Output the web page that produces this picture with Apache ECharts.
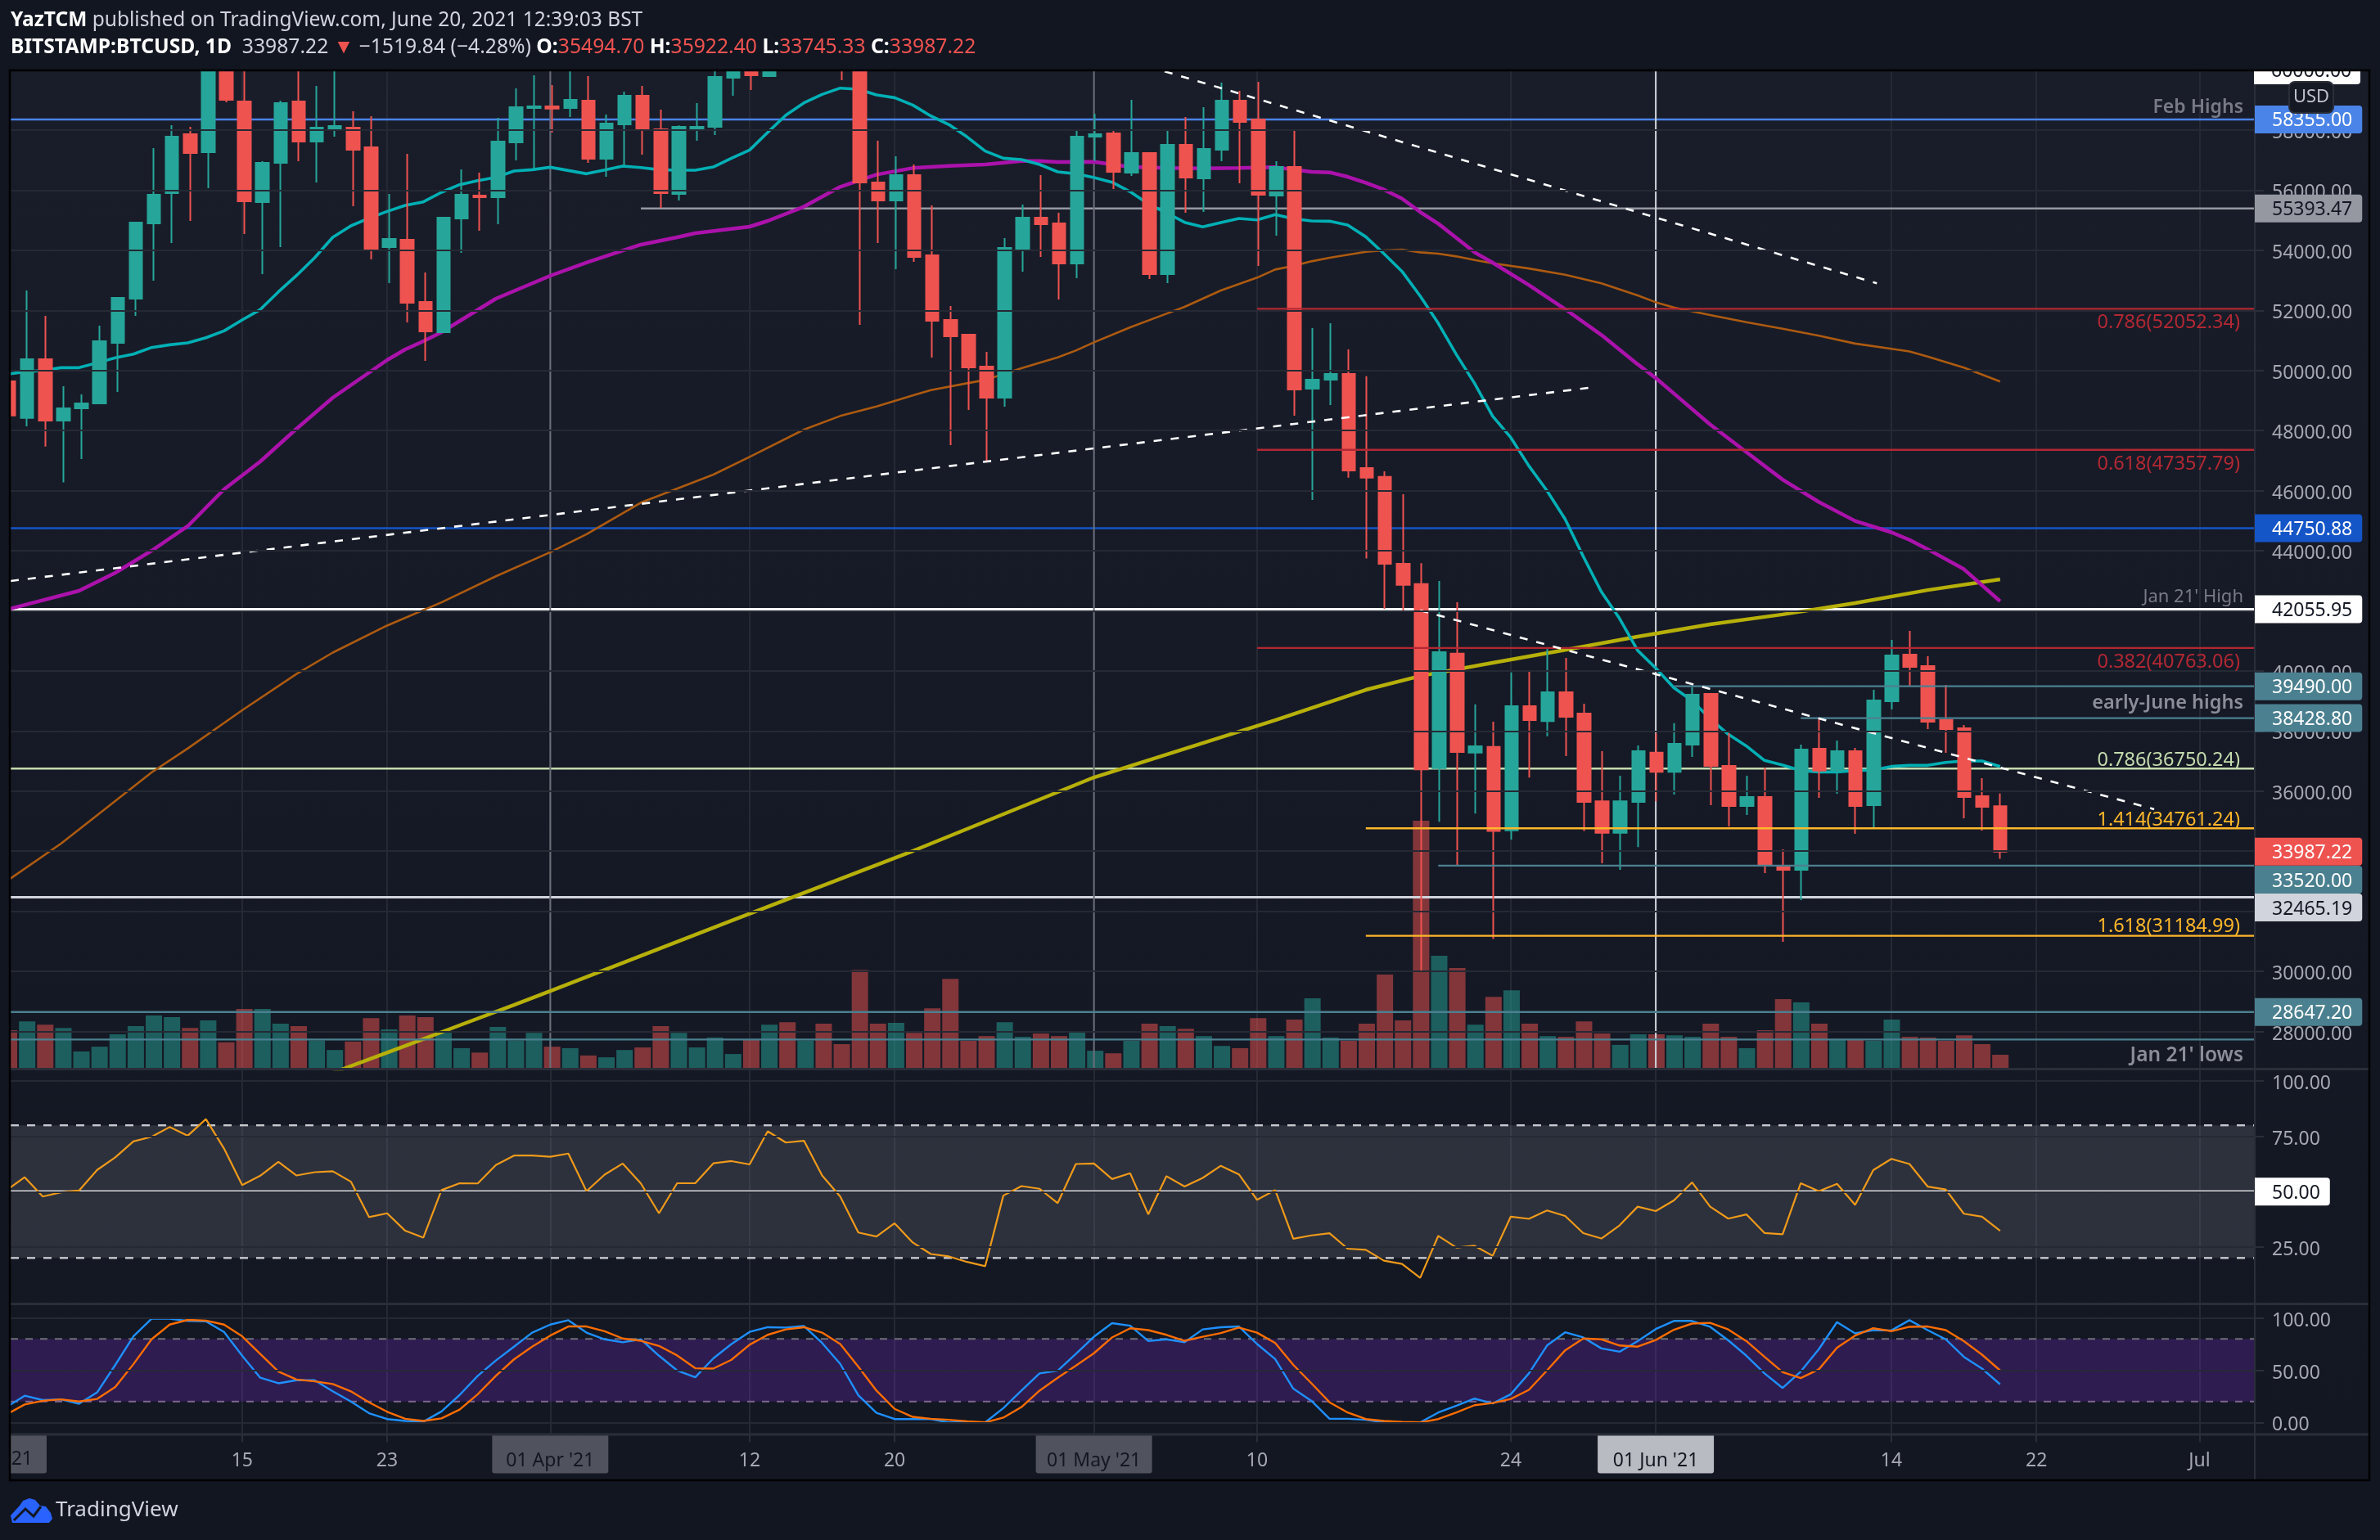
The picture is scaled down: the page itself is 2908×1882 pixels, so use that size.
<!DOCTYPE html>
<html><head><meta charset="utf-8">
<style>html,body{margin:0;padding:0;background:#121621}#c{width:2908px;height:1882px}</style>
<script src="https://cdn.jsdelivr.net/npm/echarts@6/dist/echarts.min.js"></script>
</head><body><div id="c"></div>
<script>
// ---------- daily data, Mar 2 (day 0) .. Jun 20 2021 (day 110) ----------
const opens = [49637,48421,50372,48330,48738,48902,50917,52388,54893,55901,57862,57262,61195,58951,55601,56908,58951,57617,57998,58080,57426,54103,54348,52279,51271,55057,55819,55765,57589,58733,
58788,58733,58978,57045,58188,59142,58025,55873,58052,58107,59741,60100,59795,63500,62900,63200,61300,60300,56255,55656,56500,53831,51680,51189,50127,49092,53994,55084,54893,53559,
57780,57889,56582,57235,53205,57508,56391,57344,58978,58352,55819,56772,49392,49691,49882,46751,46456,43563,42890,36760,40575,37280,37469,34694,38827,38331,39288,38579,35662,34611,35638,
37280,36642,37546,39235,36838,35504,35803,33506,33379,37410,36684,37328,35531,38990,40542,40161,38363,38091,35831,35494.70];
const closes = [48502,50372,48330,48738,48902,50971,52415,54920,55846,57780,57235,61195,59005,55628,56908,58897,57617,58080,58134,57344,54049,54376,52251,51298,55084,55846,55765,57617,58760,58788,
58715,59005,57045,58216,59142,57998,55901,58107,58107,59768,60060,59823,63500,62900,63200,61300,60300,56255,55656,56500,53776,51652,51135,50100,49092,54076,55084,54866,53559,57780,
57862,56609,57235,53205,57508,56418,57371,58978,58270,55846,56772,49365,49691,49882,46669,46433,43563,42866,36725,40622,37304,37493,34670,38827,38366,39288,38473,35638,34611,35662,37327,
36642,37575,39208,36838,35504,35803,33543,33379,37383,36684,37328,35504,39017,40515,40133,38309,38064,35803,35476,33987.22];
const highs = [49982,52660,51816,49473,49201,51489,52415,54948,57399,58161,58107,61700,61700,60600,56963,58978,60300,59468,60300,58624,58461,55873,57208,53259,55111,56691,56582,58406,59387,59823,
59496,60200,59795,58515,59278,59468,58679,58152,58897,61000,60800,61000,64000,64800,63800,63500,62500,61000,57644,57126,56854,55492,52143,51217,50617,54403,55520,56500,55247,57998,
58542,57971,59005,57262,57971,58434,58760,59577,59305,59605,56963,58025,51407,51570,50699,49807,46645,45878,43586,42996,42287,38886,38307,39949,39996,40776,40433,38910,37327,36512,37516,
37929,38260,39453,39262,37927,36511,36784,34060,37546,38390,37682,37437,39371,41032,41332,40488,39534,38200,36430,35922.40];
const lows = [47985,48139,47467,46272,47050,48902,49283,51816,52987,54240,54975,56064,58924,54539,53205,54103,56963,56255,57780,55465,53695,52905,51598,50318,51244,53913,54648,54866,56990,56718,
57916,58434,56908,56445,56827,57181,55411,55656,57644,57834,59142,59332,59768,61000,62000,60100,59659,51516,54240,53368,53613,50427,47513,48684,46968,48793,53286,53776,52360,53068,
56972,56037,56473,53041,52905,55247,55274,56963,56228,53477,54485,48493,45690,48847,46433,43740,42063,41992,30030,34977,33536,35249,31080,34386,36453,37823,37162,34670,33595,33383,34138,
35662,35886,37138,35531,34823,35204,33270,30983,32372,35776,35912,34578,34768,38717,39507,38064,37274,35095,34687,33745.33];
const volumes = [105,129,120,111,47,60,94,116,145,141,111,132,72,163,163,123,116,77,51,74,138,107,145,141,103,56,44,114,77,98,
60,56,36,31,51,58,116,98,58,85,40,80,120,127,77,123,67,270,123,125,98,165,245,76,89,127,87,96,89,103,
49,42,76,123,116,109,89,62,56,138,89,134,192,85,76,123,257,132,677,308,275,120,196,214,123,89,87,129,96,65,94,
94,91,87,123,87,56,105,190,181,123,80,80,76,134,87,85,76,91,67,38];
const ma20 = [49873,49955,50000,50091,50091,50254,50418,50545,50763,50853,50917,51089,51316,51680,52025,52615,53159,53750,54430,54812,55066,55293,55492,55610,55928,56182,56318,56427,56636,56681,
56763,56654,56545,56672,56800,56754,56681,56663,56663,56772,57063,57335,57925,58497,58906,59187,59396,59360,59169,59078,58833,58470,58179,57771,57299,57063,57017,56854,56609,56545,
56418,56264,55946,55538,55247,54930,54775,54920,55057,55011,55184,55048,54975,54966,54839,54448,53885,53296,52478,51570,50527,49573,48476,47767,46822,45996,45051,43811,42630,41744,40681,
40091,39441,39010,38409,37891,37501,37020,36865,36684,36638,36638,36684,36702,36820,36856,36856,36956,37001,37001,36820];
const ma50Days = [0,4,6,8,9,10,12,14,16,18,21,22,23,24,27,30,32,35,37,38,41,42,44,46,48,50,52,54,56,57,58,60,62,64,66,68,70,72,73,74,75,76,77,78,79,80,81,82,84,86,88,90,91,92,94,96,98,100,102,104,105,106,108,110];
const ma50Values = [42040,42666,43265,44000,44409,44818,46043,46969,48058,49093,50346,50700,50972,51272,52388,53151,53587,54186,54431,54567,54785,54975,55450,56110,56518,56736,56809,56854,56972,56972,56936,56945,56772,56736,56727,56736,56763,56609,56591,56445,56246,56019,55719,55274,54884,54412,53931,53587,52843,52040,51180,50206,49748,49232,48200,47283,46366,45621,44991,44613,44361,44051,43386,42320];
const ma100Days = [0,3,5,8,10,13,16,18,21,24,27,30,32,35,39,41,44,46,48,50,51,53,54,56,58,59,60,62,64,65,66,67,69,70,71,72,73,75,76,77,78,79,80,81,82,84,86,88,90,91,92,94,96,98,100,102,104,105,106,108,110];
const ma100Values = [33000,34250,35200,36620,37420,38690,39900,40610,41510,42280,43150,43950,44550,45600,46532,47123,48030,48484,48802,49165,49346,49573,49682,50073,50436,50663,50935,51435,51888,52115,52388,52660,53087,53359,53477,53631,53749,53949,53994,54021,53931,53886,53795,53677,53565,53393,53186,52900,52499,52269,52097,51845,51605,51387,51158,50894,50722,50630,50459,50092,49633];
const ma200Days = [18,22,25,28,30,40,50,60,70,75,78,82,86,90,94,98,102,106,110];
const ma200Values = [26626,27522,28205,28885,29347,31689,34005,36456,38360,39370,39830,40270,40700,41140,41550,41880,42260,42690,43050];
const rsi = [50.6,56.5,47.8,49.7,50.5,59.8,65.5,72.7,74.8,79.2,75.3,82.8,69.5,53,57.2,63.5,57.3,58.8,59.2,54.5,38.5,40.2,32.3,29.2,50.7,53.8,53.7,62,66.3,66.3,
65.8,67.2,50.2,57.7,62.7,53.7,40.2,53.8,53.8,62.8,63.8,62.3,77.3,72.2,73,57.3,47.8,31.5,29.7,35.7,27,21.8,20.7,18.2,16.3,48.2,52.5,51.3,44.8,62.5,
62.7,55.7,58.3,39.7,57,52.3,56.2,61.7,57.8,46.3,50.7,28.7,30.2,31.2,24.2,23.7,18.8,17.3,11,30,24.7,25.5,21,38.7,37.7,41.5,39,31.2,28.8,34.7,43.2,
41.2,46,54.2,43.2,37.8,39.7,31.3,30.7,53.8,50.2,53.5,44,59.7,64.8,62.5,52.3,51,40,38.7,32.3];
const stochK = [14.7,25.6,21.4,22.1,17.9,28.8,55.1,82.5,99.3,99.3,97.2,96.8,86.7,63.9,42.8,37.5,40.4,40.4,29.8,20,8.8,3.2,1.4,0.7,10.5,26.3,44.6,59.3,72.6,86,
93.7,97.9,86,79.6,76.8,79.6,63.9,49.8,43.2,61.4,75.1,86.7,91.2,90.9,92.3,76.1,56.1,26,9.1,3.2,3.2,3.2,0,0,0,13.7,30.5,47,49.5,65.6,
82.1,95.1,92.6,77.9,79.6,76.8,89.1,91.2,91.9,75.1,60.7,32.3,20.7,3.5,3.5,2.5,0,0,0,9.5,16.1,22.8,18.2,27,47,73.7,86.3,81.4,70.9,67.7,77.9,
89.5,97.2,97.2,91.6,78.6,63.9,47,33,48.8,70.2,96.1,85.3,88.4,88.1,97.9,88.4,79.6,62.8,51.6,36.5];
const stochD = [7.7,17.2,20.7,22.1,20,22.5,34,55.8,79.6,93.7,98.2,97.5,93.7,82.5,65.6,48.8,41.1,39.3,36.8,29.8,19.3,10.2,3.5,1.4,3.9,12.3,27,44.6,60.4,72.6,
83.2,91.9,91.9,87.4,80.4,78.2,73.3,64.2,51.9,51.6,60,74.4,83.9,89.1,91.2,86,75.1,53.3,30.5,13,5.3,3.5,2.5,1.1,0,4.6,14.7,30.5,42.8,54.4,
66.3,81.4,90.2,88.4,83.9,78.2,82.1,85.6,90.9,86,76.1,55.1,37.5,19.3,9.5,3.2,1.4,0.4,0,3.2,9.5,16.5,18.6,22.5,31.2,49.8,69.1,80.4,79.6,73.7,72.6,
78.9,88.8,94.7,95.4,89.1,77.9,62.8,48.1,42.5,50.9,71.6,83.2,90.2,87.4,91.6,91.9,88.4,77.9,64.9,49.8];

// ---------- axis ticks and labels ----------
const priceTicks = [28000,30000,32000,34000,36000,38000,40000,42000,44000,46000,48000,50000,52000,54000,56000,58000];
const rsiTicks = [25,50,75,100];
const stochTicks = [0,50,100];
const timeTickDays = [13,21,30,41,49,60,69,83,91,104,112,121];
const timeTickLabels = ['15','23',"01 Apr '21",'12','20',"01 May '21",'10','24',"01 Jun '21",'14','22','Jul'];
const boxedMonthDays = [30,60,91];

// ---------- drawn levels ----------
const backLevelPrices = [58355,55393.47,44750.88,42055.95,36750.24,32465.19];
const backLevelStart = [-1,35,-1,-1,-1,-1];
const frontLevelPrices = [52052.34,47357.79,40763.06,39490,38428.8,34761.24,33520,31184.99,28647.2,27732];
const frontLevelStart = [69,69,69,92,99,75,79,75,-1,-1];
const trendDays = [[0.226,87.7],[63.9,103.2],[78,118.5]];
const trendPrices = [[42993,49450],[59955,52900],[42013,35396]];
const priceTagValues = [58355,55393.47,44750.88,42055.95,39490,38428.8,33987.22,33520,32465.19,28647.2];
// where each tag sits on the scale: two are pushed down so the stack does not overlap
const priceTagAnchors = [58355,55393.47,44750.88,42055.95,39490,38428.8,33987.22,33053,32127,28647.2];
const monthLineDays = [30,60,91];

// ---------- styles ----------
const backLevelColors = ['#4a84e8','#9598a1','#1455c8','#ffffff','#c5dcae','#d1d4dc'];
const frontLevelColors = ['#b22833','#b22833','#b22833','#4b8090','#4b8090','#ffb72a','#4b8090','#ffb72a','#4b8090','#4b8090'];
const tagFill = ['#4a84e8','#9598a1','#1455c8','#ffffff','#4b8090','#4b8090','#ef5350','#4b8090','#d1d4dc','#4b8090'];
const tagText = ['#fff','#131722','#fff','#131722','#fff','#fff','#fff','#fff','#131722','#fff'];
const monthLineColors = ['#6a6d79','#6a6d79','#d1d4dc'];

const FONT = '"Noto Sans"';
const GRID = '#252934', PANEL = '#2a2e39', AXT = '#a6a9b2';
const bandW = 22.144, x0 = 8;
const L = 13, AX = 2755, R = 2895, T = 87, B1 = 1306, B2 = 1593, B3 = 1752.6, B4 = 1809;
const xMin = (L - x0) / bandW, xMax = (AX - x0) / bandW;
const pTop = 59959, pBot = 26762;

const categories = Array.from({length:125},(_,i)=>'d'+i);
const candle = opens.map((o,i)=>[o,closes[i],lows[i],highs[i]]);
const zip = (a,b)=>a.map((v,i)=>[v,b[i]]);
const daily = a=>a.map((v,i)=>[i,v]);

function ln(name,g,data,color,width,z,extra){
  return Object.assign({name,type:'line',xAxisIndex:g.x,yAxisIndex:g.y,data,symbol:'none',showSymbol:false,silent:true,animation:false,z,
    lineStyle:{color,width,type:(extra&&extra.dash)||'solid',cap:'butt'}},extra&&extra.more||{});
}
const G1={x:1,y:2},G2={x:2,y:4},G3={x:3,y:6};
const series=[];
series.push({type:'bar',name:'volume',xAxisIndex:0,yAxisIndex:1,data:volumes,barWidth:20,silent:true,animation:false,z:1,
  itemStyle:{color:p=>closes[p.dataIndex]>=opens[p.dataIndex]?'rgba(38,166,154,0.5)':'rgba(239,83,80,0.5)'}});
backLevelPrices.forEach((p,i)=>series.push(ln('lvl'+i,G1,[[backLevelStart[i]<0?xMin:backLevelStart[i],p],[xMax,p]],backLevelColors[i],i==3||i==5?3:2.5,3)));
monthLineDays.forEach((d,i)=>series.push(ln('v'+i,G1,[[d,pBot],[d,pTop]],monthLineColors[i],2,3)));
series.push(ln('ma200',G1,zip(ma200Days,ma200Values),'#b7b00a',4.5,4));
series.push(ln('ma100',G1,zip(ma100Days,ma100Values),'#ad5a10',2.6,4));
series.push(ln('ma50',G1,zip(ma50Days,ma50Values),'#ab12ab',4.5,4));
series.push(ln('ma20',G1,daily(ma20),'#00b0b5',3.6,4));
series.push({type:'candlestick',name:'BTCUSD',xAxisIndex:0,yAxisIndex:0,data:candle,barWidth:16,silent:true,animation:false,z:5,
  itemStyle:{color:'#26a69a',color0:'#ef5350',borderColor:'#26a69a',borderColor0:'#ef5350',borderWidth:2}});
frontLevelPrices.forEach((p,i)=>series.push(ln('fl'+i,G1,[[frontLevelStart[i]<0?xMin:frontLevelStart[i],p],[xMax,p]],frontLevelColors[i],2.4,6)));
trendDays.forEach((d,i)=>series.push(ln('t'+i,G1,zip(d,trendPrices[i]),'#ffffff',2.6,7,{dash:[10,11]})));
// RSI pane
series.push(ln('rsiBand',G2,[],'#000',0,1,{more:{markArea:{silent:true,animation:false,itemStyle:{color:'rgba(120,123,134,0.25)'},data:[[{yAxis:20},{yAxis:80}]]}}}));
[80,20].forEach(v=>series.push(ln('r'+v,G2,[[xMin,v],[xMax,v]],'#c8c9ce',2.4,3,{dash:[10,10]})));
series.push(ln('r50',G2,[[xMin,50],[xMax,50]],'#ffffff',3,3));
series.push(ln('rsi',G2,daily(rsi),'#ef9a1a',2.2,4));
// Stoch pane
series.push(ln('stBand',G3,[],'#000',0,1,{more:{markArea:{silent:true,animation:false,itemStyle:{color:'rgba(120,40,200,0.28)'},data:[[{yAxis:20},{yAxis:80}]]}}}));
series.push(ln('s80',G3,[[xMin,80],[xMax,80]],'#6f7078',2,3,{dash:[9,9]}));
series.push(ln('s20',G3,[[xMin,20],[xMax,20]],'#7d6690',2,3,{dash:[9,9]}));
series.push(ln('k',G3,daily(stochK),'#1e90ff',2.4,4));
series.push(ln('d',G3,daily(stochD),'#ff6d00',2.4,5));

const hiddenX=(gridIndex)=>({type:'value',gridIndex,min:xMin,max:xMax,show:false});
const tagRich={};
priceTagValues.forEach((v,i)=>{tagRich['s'+i]={backgroundColor:tagFill[i],color:tagText[i],fontFamily:FONT,fontSize:23,height:22,padding:[8,12,4,21],borderRadius:[0,4,4,0]}});
const priceLabel={margin:21,formatter:v=>'{v|'+v.toFixed(2)+'}',rich:{v:{color:AXT,fontFamily:FONT,fontSize:23,height:22,padding:[7,0,0,0]}}};
const axisCommon={position:'right',axisLine:{show:true,lineStyle:{color:PANEL,width:2}},axisTick:{show:true,length:11,lineStyle:{color:PANEL,width:2}}};

const option={
  backgroundColor:'#121621',animation:false,
  grid:[
    {left:x0-bandW/2,top:T,width:bandW*125,height:B1-T},
    {left:L,top:T,width:AX-L,height:B1-T},
    {left:L,top:B1,width:AX-L,height:B2-B1},
    {left:L,top:B2,width:AX-L,height:B3-B2},
    {left:L,top:T,width:AX-L,height:B3-T}
  ],
  xAxis:[
    {type:'category',gridIndex:0,data:categories,show:false},
    hiddenX(1),hiddenX(2),hiddenX(3),
    {type:'value',gridIndex:4,min:xMin,max:xMax,position:'bottom',
      axisLine:{show:false},
      axisTick:{show:true,length:10,customValues:timeTickDays,lineStyle:{color:PANEL,width:2}},
      splitLine:{show:true,lineStyle:{color:GRID,width:2}},
      axisLabel:{customValues:timeTickDays,margin:0,
        formatter:v=>{const i=timeTickDays.indexOf(v);const t=timeTickLabels[i];
          if(boxedMonthDays.includes(v))return (v===91?'{w|':'{g|')+t+'}';return '{n|'+t+'}';},
        rich:{
          n:{color:AXT,fontFamily:FONT,fontSize:23,height:31,padding:[17,0,0,0]},
          g:{color:'#131722',fontFamily:FONT,fontSize:23,backgroundColor:'#50535e',width:110,align:'center',height:31,padding:[17,16,0,16],borderRadius:[0,0,3,3]},
          w:{color:'#131722',fontFamily:FONT,fontSize:23,backgroundColor:'#b9bbc2',width:110,align:'center',height:31,padding:[17,16,0,16],borderRadius:[0,0,3,3]}
        }}}
  ],
  yAxis:[
    {type:'value',gridIndex:0,min:pBot,max:pTop,show:false},
    {type:'value',gridIndex:0,min:0,max:2723,show:false},
    Object.assign({type:'value',gridIndex:1,min:pBot,max:pTop,z:10},axisCommon,{
      axisTick:{show:true,length:11,customValues:priceTicks,lineStyle:{color:PANEL,width:2}},
      axisLabel:Object.assign({customValues:priceTicks},priceLabel),
      splitLine:{show:true,lineStyle:{color:GRID,width:2}}}),
    {type:'value',gridIndex:1,min:pBot,max:pTop,position:'right',z:30,axisLine:{show:false},axisTick:{show:false},splitLine:{show:false},
      axisLabel:{customValues:priceTagAnchors,margin:0,rich:tagRich,formatter:v=>{const i=priceTagAnchors.indexOf(v);return '{s'+i+'|'+priceTagValues[i].toFixed(2)+'}';}}},
    Object.assign({type:'value',gridIndex:2,min:-0.6,max:105.6,z:10},axisCommon,{
      axisTick:{show:true,length:11,customValues:rsiTicks,lineStyle:{color:PANEL,width:2}},
      axisLabel:Object.assign({customValues:rsiTicks},priceLabel),
      splitLine:{show:true,lineStyle:{color:GRID,width:2}}}),
    {type:'value',gridIndex:2,min:-0.6,max:105.6,position:'right',z:30,axisLine:{show:false},axisTick:{show:false},splitLine:{show:false},
      axisLabel:{customValues:[50],margin:0,formatter:()=>'{t|50.00}',rich:{t:{backgroundColor:'#ffffff',color:'#131722',fontFamily:FONT,fontSize:23,height:22,padding:[8,12,4,21],borderRadius:[0,4,4,0]}}}},
    Object.assign({type:'value',gridIndex:3,min:-11.2,max:113.9,z:10},axisCommon,{
      axisTick:{show:true,length:11,customValues:stochTicks,lineStyle:{color:PANEL,width:2}},
      axisLabel:Object.assign({customValues:stochTicks},priceLabel),
      splitLine:{show:true,lineStyle:{color:GRID,width:2}}}),
    {type:'value',gridIndex:4,min:0,max:1,show:false}
  ],
  series,
  graphic:{elements:[
    {type:'rect',z:-10,silent:true,shape:{x:L,y:T,width:R-L,height:B4-T},style:{fill:new echarts.graphic.LinearGradient(0,0,0,1,[{offset:0,color:'#191d29'},{offset:0.55,color:'#151925'},{offset:1,color:'#131722'}])}},
    {type:'rect',z:50,silent:true,shape:{x:-60,y:B3,width:117,height:48,r:3},style:{fill:'#50535e'}},
    {type:'text',z:51,silent:true,style:{x:40,y:1783,text:"01 Mar '21",textAlign:'right',textVerticalAlign:'middle',fill:'#131722',font:'23px '+FONT}},
    {type:'rect',z:50,silent:true,shape:{x:AX-1,y:T-20,width:130,height:36,r:[0,4,4,0]},style:{fill:'#ffffff'}},
    {type:'text',z:51,silent:true,style:{x:AX+20,y:T,text:'60000.00',textVerticalAlign:'middle',fill:'#131722',font:'23px '+FONT}},
    {type:'rect',z:100,silent:true,shape:{x:0,y:0,width:2908,height:T-1},style:{fill:'#121621'}},
    {type:'rect',z:100,silent:true,shape:{x:0,y:0,width:L-1,height:1882},style:{fill:'#121621'}},
    {type:'rect',z:101,silent:true,shape:{x:L-1,y:T-1,width:R-L+1,height:B4-T+1},style:{fill:'none',stroke:'#000000',lineWidth:2.5}},
    {type:'rect',z:60,silent:true,shape:{x:L,y:B1-1,width:R-L,height:3},style:{fill:PANEL}},
    {type:'rect',z:60,silent:true,shape:{x:L,y:B2-1,width:R-L,height:3},style:{fill:PANEL}},
    {type:'rect',z:60,silent:true,shape:{x:L,y:B3-1,width:R-L,height:3},style:{fill:PANEL}},
    {type:'rect',z:9,silent:true,shape:{x:AX-1,y:T,width:2,height:B4-T},style:{fill:PANEL}},
    {type:'rect',z:70,silent:true,shape:{x:2797,y:100,width:54,height:38,r:7},style:{fill:'#151924',stroke:'#2a2e39',lineWidth:2}},
    {type:'text',z:71,silent:true,style:{x:2824,y:119,text:'USD',textAlign:'center',textVerticalAlign:'middle',fill:'#c0c3cc',font:'22px '+FONT}},
    ...[['Feb Highs',131,'#787b86','600 23px'],['Jan 21\' High',730,'#787b86','400 22px'],['early-June highs',859,'#8b8e98','600 23.5px'],['Jan 21\' lows',1290,'#8b8e98','600 24.5px']].map(a=>({type:'text',z:40,silent:true,style:{x:2741,y:a[1],text:a[0],textAlign:'right',textVerticalAlign:'middle',fill:a[2],font:a[3]+' '+FONT}})),
    ...[['0.786(52052.34)',394,'#b22833'],['0.618(47357.79)',567,'#b22833'],['0.382(40763.06)',809.5,'#b22833'],['0.786(36750.24)',929,'#c5dcae'],['1.414(34761.24)',1002,'#ffb72a'],['1.618(31184.99)',1132,'#ffb72a']].map(a=>({type:'text',z:40,silent:true,style:{x:2737,y:a[1],text:a[0],textAlign:'right',textVerticalAlign:'middle',fill:a[2],font:'23.5px '+FONT}})),
    {type:'text',z:110,silent:true,style:{x:13,y:25,textVerticalAlign:'middle',text:'{b|YazTCM }{t|published on TradingView.com, June 20, 2021 12:39:03 BST}',
      rich:{b:{fontFamily:FONT,fontWeight:700,fontSize:24.5,fill:'#ffffff'},t:{fontFamily:FONT,fontSize:24.5,fill:'#d1d4dc'}}}},
    {type:'text',z:110,silent:true,style:{x:13,y:58,textVerticalAlign:'middle',text:'{b|BITSTAMP:BTCUSD, 1D  }{t|33987.22 }{r|▼ }{t|−1519.84 (−4.28%) }{b|O:}{r|35494.70 }{b|H:}{r|35922.40 }{b|L:}{r|33745.33 }{b|C:}{r|33987.22}',
      rich:{b:{fontFamily:FONT,fontWeight:700,fontSize:24.7,fill:'#ffffff'},t:{fontFamily:FONT,fontSize:24.7,fill:'#d1d4dc'},r:{fontFamily:FONT,fontSize:24.7,fill:'#ef5350'}}}},
    {type:'polygon',z:110,silent:true,shape:{points:[[15,1861],[13,1852],[24,1840],[28,1834],[36,1831],[43,1833],[49,1840],[56,1841],[62,1849],[64,1856],[60,1861]]},style:{fill:'#2962ff'}},
    {type:'polyline',z:111,silent:true,shape:{points:[[17,1858],[31,1844],[41,1853],[50,1841]]},style:{fill:'none',stroke:'#131722',lineWidth:3}},
    {type:'text',z:110,silent:true,style:{x:68,y:1846,text:'TradingView',textVerticalAlign:'middle',fill:'#d1d4dc',font:'26px '+FONT}}
  ]}
};
const chart=echarts.init(document.getElementById('c'),null,{width:2908,height:1882,devicePixelRatio:1,renderer:'canvas'});
chart.setOption(option);
</script>
</body></html>
